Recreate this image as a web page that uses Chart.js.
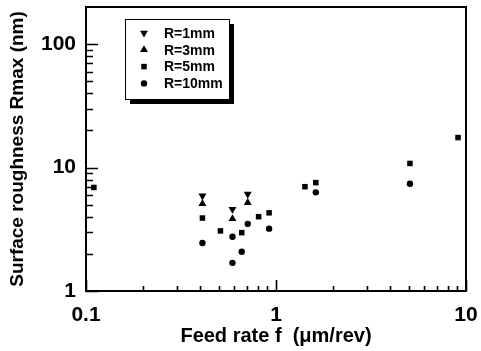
<!DOCTYPE html>
<html>
<head>
<meta charset="utf-8">
<script src="https://cdn.jsdelivr.net/npm/chart.js@4/dist/chart.umd.min.js"></script>
<style>
  html, body { margin: 0; padding: 0; background: #fff; }
  canvas { display: block; }
</style>
</head>
<body>
<canvas id="chart" width="481" height="351"></canvas>
<script>
// Feed rate f (um/rev) vs surface roughness Rmax (nm)
const seriesNames = ["R=1mm", "R=3mm", "R=5mm", "R=10mm"];

const r1X = [0.41, 0.59, 0.71];
const r1Y = [5.9, 4.6, 6.1];

const r3X = [0.41, 0.59, 0.71];
const r3Y = [5.1, 3.85, 5.2];

const r5X = [0.11, 0.41, 0.51, 0.66, 0.81, 0.92, 1.42, 1.62, 5.07, 9.08];
const r5Y = [6.9, 3.9, 3.07, 2.97, 4.0, 4.3, 7.0, 7.55, 10.8, 17.5];

const r10X = [0.41, 0.59, 0.59, 0.66, 0.71, 0.92, 1.62, 5.07];
const r10Y = [2.45, 2.75, 1.69, 2.08, 3.5, 3.2, 6.3, 7.4];

const xLabelValues = [0.1, 1, 10];
const yLabelValues = [1, 10, 100];
const xTickValues = [0.1, 0.2, 0.3, 0.4, 0.5, 0.6, 0.7, 0.8, 0.9, 1, 2, 3, 4, 5, 6, 7, 8, 9, 10];
const yTickValues = [1, 2, 3, 4, 5, 6, 7, 8, 9, 10, 20, 30, 40, 50, 60, 70, 80, 90, 100, 200];

const toPoints = (xs, ys) => xs.map((x, i) => ({ x: x, y: ys[i] }));
const FONT = "'Liberation Sans', Arial, sans-serif";

const pointSpecs = [
  { style: "triangle", rotation: 180, radius: 4.6 },
  { style: "triangle", rotation: 0, radius: 4.6 },
  { style: "rect", rotation: 0, radius: 3.9 },
  { style: "circle", rotation: 0, radius: 3.2 },
];
const seriesData = [toPoints(r1X, r1Y), toPoints(r3X, r3Y), toPoints(r5X, r5Y), toPoints(r10X, r10Y)];

const datasets = seriesNames.map((name, i) => ({
  label: name,
  data: seriesData[i],
  showLine: false,
  pointStyle: pointSpecs[i].style,
  rotation: pointSpecs[i].rotation,
  pointRadius: pointSpecs[i].radius,
  backgroundColor: "#000",
  borderColor: "#000",
  borderWidth: 0,
}));

// simple marker for the legend box
const drawMarker = (ctx, style, rotation, r, x, y) => {
  ctx.save();
  ctx.fillStyle = "#000";
  ctx.translate(x, y);
  ctx.rotate(rotation * Math.PI / 180);
  ctx.beginPath();
  if (style === "triangle") {
    ctx.moveTo(0, -r);
    ctx.lineTo(r * Math.sin(2 * Math.PI / 3), -r * Math.cos(2 * Math.PI / 3));
    ctx.lineTo(-r * Math.sin(2 * Math.PI / 3), -r * Math.cos(2 * Math.PI / 3));
    ctx.closePath();
  } else if (style === "rect") {
    const s = r * Math.SQRT1_2;
    ctx.rect(-s, -s, 2 * s, 2 * s);
  } else {
    ctx.arc(0, 0, r, 0, Math.PI * 2);
  }
  ctx.fill();
  ctx.restore();
};

const frameAndTicks = {
  id: "frameAndTicks",
  afterDraw(chart) {
    const ctx = chart.ctx;
    const a = chart.chartArea;
    const xs = chart.scales.x;
    const ys = chart.scales.y;
    ctx.save();
    ctx.strokeStyle = "#000";
    ctx.lineWidth = 2;
    ctx.strokeRect(a.left, a.top, a.right - a.left, a.bottom - a.top);

    ctx.lineWidth = 1.6;
    ctx.beginPath();
    xTickValues.forEach((v) => {
      const px = Math.round(xs.getPixelForValue(v)) + 0.5;
      const len = xLabelValues.includes(v) ? 11 : 5;
      ctx.moveTo(px, a.bottom);
      ctx.lineTo(px, a.bottom - len);
    });
    yTickValues.forEach((v) => {
      const py = Math.round(ys.getPixelForValue(v)) + 0.5;
      if (py < a.top + 2) return;
      const len = yLabelValues.includes(v) ? 12 : 7;
      ctx.moveTo(a.left, py);
      ctx.lineTo(a.left + len, py);
    });
    ctx.stroke();

    // legend box with shadow
    const bx = 125, by = 19, bw = 104, bh = 80;
    ctx.fillStyle = "#000";
    ctx.fillRect(bx + 5, by + 5, bw, bh);
    ctx.fillStyle = "#fff";
    ctx.fillRect(bx, by, bw, bh);
    ctx.lineWidth = 1;
    ctx.strokeRect(bx + 0.5, by + 0.5, bw, bh);

    ctx.font = "bold 14px " + FONT;
    ctx.textBaseline = "middle";
    ctx.textAlign = "left";
    chart.data.datasets.forEach((ds, i) => {
      const y = 33 + i * 16.8;
      drawMarker(ctx, ds.pointStyle, ds.rotation, ds.pointRadius, 144, y);
      ctx.fillStyle = "#000";
      ctx.fillText(ds.label, 164, y + 1);
    });
    ctx.restore();
  },
};

new Chart(document.getElementById("chart"), {
  type: "scatter",
  data: { datasets: datasets },
  options: {
    responsive: false,
    animation: false,
    devicePixelRatio: 1,
    layout: { padding: { top: 7, right: 15, left: 0, bottom: 0 } },
    plugins: { legend: { display: false }, tooltip: { enabled: false } },
    scales: {
      x: {
        type: "logarithmic",
        min: 0.1,
        max: 10,
        grid: { display: false, drawTicks: false },
        border: { display: false },
        afterBuildTicks: (scale) => { scale.ticks = xTickValues.map((v) => ({ value: v })); },
        afterFit: (scale) => {
          scale.height = 60;
          scale.paddingLeft = 0;
          scale.paddingRight = 0;
        },
        ticks: {
          autoSkip: false,
          maxRotation: 0,
          padding: 12,
          color: "#000",
          font: { family: FONT, size: 21, weight: "bold" },
          callback: (v) => (xLabelValues.includes(v) ? String(v) : ""),
        },
        title: {
          display: true,
          text: "Feed rate f  (\u03bcm/rev)",
          color: "#000",
          font: { family: FONT, size: 20, weight: "bold" },
          padding: { top: 0, bottom: 3 },
        },
      },
      y: {
        type: "logarithmic",
        min: 1,
        max: 200,
        grid: { display: false, drawTicks: false },
        border: { display: false },
        afterBuildTicks: (scale) => { scale.ticks = yTickValues.map((v) => ({ value: v })); },
        afterFit: (scale) => {
          scale.width = 86;
          scale.paddingTop = 0;
          scale.paddingBottom = 0;
        },
        ticks: {
          autoSkip: false,
          padding: 10,
          color: "#000",
          font: { family: FONT, size: 21, weight: "bold" },
          callback: (v) => (yLabelValues.includes(v) ? String(v) : ""),
        },
        title: {
          display: true,
          text: "Surface roughness Rmax (nm)",
          color: "#000",
          font: { family: FONT, size: 19, weight: "bold" },
          padding: { top: 6, bottom: 0 },
        },
      },
    },
  },
  plugins: [frameAndTicks],
});
</script>
</body>
</html>
